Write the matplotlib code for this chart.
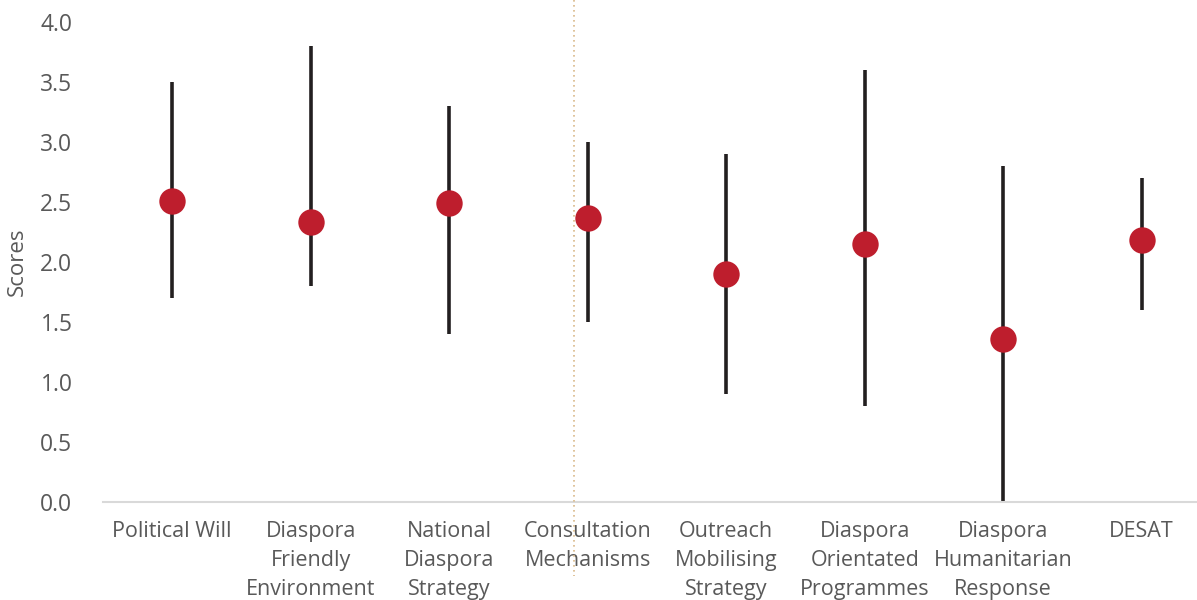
import matplotlib
matplotlib.use('Agg')
import matplotlib.pyplot as plt
from matplotlib.lines import Line2D
import numpy as np

categories = ["Political Will", "Diaspora\nFriendly\nEnvironment", "National\nDiaspora\nStrategy",
              "Consultation\nMechanisms", "Outreach\nMobilising\nStrategy", "Diaspora\nOrientated\nProgrammes",
              "Diaspora\nHumanitarian\nResponse", "DESAT"]
mean_scores = [2.51, 2.33, 2.49, 2.37, 1.90, 2.15, 1.36, 2.18]
min_scores = [1.7, 1.8, 1.4, 1.5, 0.9, 0.8, 0.0, 1.6]
max_scores = [3.5, 3.8, 3.3, 3.0, 2.9, 3.6, 2.8, 2.7]
y_ticks = [0.0, 0.5, 1.0, 1.5, 2.0, 2.5, 3.0, 3.5, 4.0]

plt.rcParams['font.family'] = ['Open Sans', 'DejaVu Sans']
text_grey = '#595959'

fig = plt.figure(figsize=(11.97, 6), dpi=100)
ax = fig.add_axes([103/1197, 98/600, 1108/1197, 480/600])

x = np.arange(len(categories))
# min-max range lines
ax.vlines(x, min_scores, max_scores, color='#231f20', linewidth=2.6, zorder=2)
# mean markers
ax.plot(x, mean_scores, linestyle='none', marker='o', markersize=19,
        color='#be1e2d', markeredgewidth=0, zorder=3)

ax.set_xlim(-0.5, len(categories) - 0.5)
ax.set_ylim(0, 4.0)
ax.set_yticks(y_ticks)
ax.set_yticklabels([f"{t:.1f}" for t in y_ticks])
ax.set_xticks(x)
ax.set_xticklabels(categories, linespacing=1.5)
ax.tick_params(axis='y', length=0, pad=22, labelsize=16.5, labelcolor=text_grey)
ax.tick_params(axis='x', length=0, pad=14, labelsize=15.5, labelcolor=text_grey)
for s in ['top', 'right', 'left']:
    ax.spines[s].set_visible(False)
ax.spines['bottom'].set_color('#d9d9d9')
ax.spines['bottom'].set_linewidth(1.5)

ax.set_ylabel("Scores", fontsize=16, color=text_grey)
ax.yaxis.set_label_coords(-0.068, 0.5)

# dotted divider line
fig.add_artist(Line2D([574/1197, 574/1197], [1.0, 24/600], transform=fig.transFigure,
                      color='#d9b98a', linewidth=1.2, linestyle=(0, (1, 2))))

fig.savefig('out.png', dpi=100)
